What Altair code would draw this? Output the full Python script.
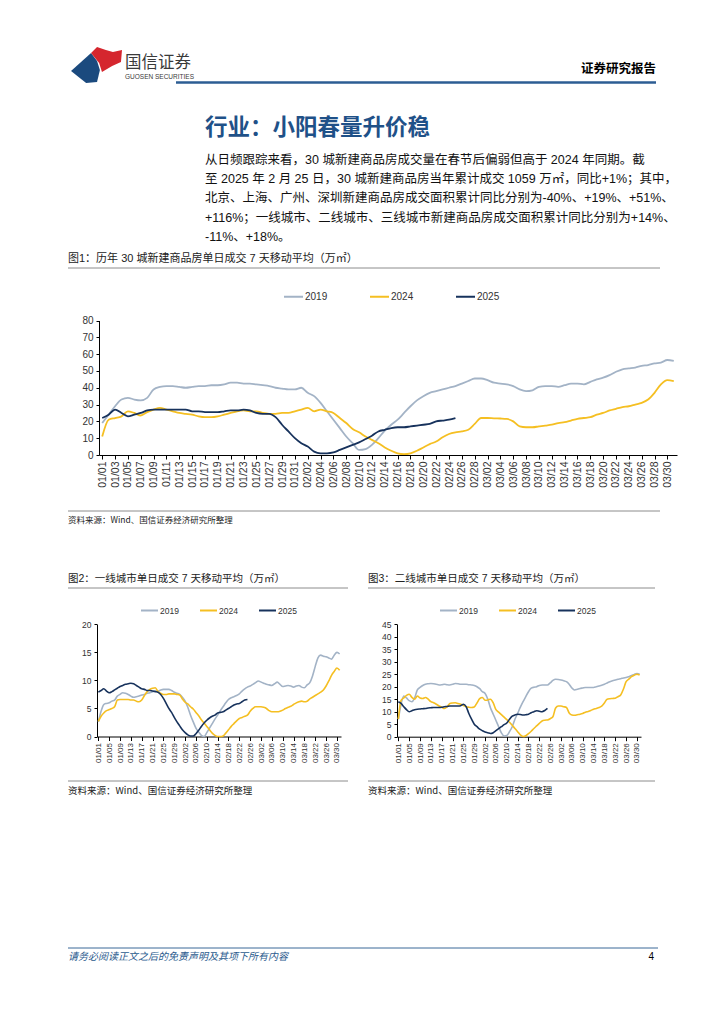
import altair as alt
import pandas as pd

W, H = 700, 1000
M = 8  # page margin

CJK = "Noto Sans CJK SC"
MIX = "Liberation Sans, Noto Sans CJK SC"
LAT = "Liberation Sans Narrow, Liberation Sans, Arial, sans-serif"
REG = "Liberation Sans, Arial, sans-serif"

# ---------------- data ----------------
dates = list(pd.date_range("2025-01-01", "2025-03-31").strftime("%m/%d"))
ticks1 = dates[::2]
ticks2 = dates[::4]
years = ["2019", "2024", "2025"]
colors = ["#a3b3c6", "#f5bf22", "#17325c"]

# Fig 1: 30 cities
c1_2019 = [19, 24, 29, 33, 34, 33, 32.5, 34, 39, 40.5,
           41, 41, 40.5, 40, 40.5, 41, 41, 41.5, 41.5, 42,
           43, 43, 42.5, 42.5, 42, 41.5, 41, 40, 39.5, 39,
           39, 40, 37, 35, 31, 26, 21, 16, 11, 7,
           3, 3.5, 6, 10, 14.5, 18, 21, 25, 29, 32.5,
           35, 37, 38, 39, 40, 41, 42.5, 44, 45.5, 45.5,
           44.5, 43, 42.5, 42, 41, 39, 38, 38.5, 40.5, 41,
           41, 40.5, 41.5, 42.5, 42.5, 42, 43.5, 45, 46, 47.5,
           49.5, 51, 51.5, 52, 53, 53.5, 54.5, 55, 56.5, 56]
c1_2024 = [11, 21, 22, 23, 26, 25, 23.5, 25.5, 27, 28,
           27, 26, 25, 24.5, 24, 23, 22.5, 22.5, 23, 24,
           25, 26, 26.5, 26, 26, 25, 24.5, 24.5, 25, 25,
           26, 27, 28, 26, 27, 26, 25, 22, 19, 15.5,
           13.5, 11, 9, 7, 4.5, 2.5, 1, 0.5, 1, 2.5,
           4.5, 6.5, 8, 10.5, 12.5, 13.5, 14, 15, 18.5, 22,
           22, 21.8, 21.7, 21.5, 20, 17, 16.5, 16.5, 17, 17.5,
           18, 19, 19.5, 20.5, 21.5, 22, 22.5, 24, 25, 26.5,
           27.5, 28.5, 29, 30, 31, 33, 37, 42, 44.5, 44]
c1_2025 = [22, 24, 27, 25, 23, 24, 25, 26.5, 27, 27,
           27, 27, 27, 27, 26, 26, 25.5, 25.5, 25.5, 26,
           26.5, 26.5, 27, 26.5, 25, 24.5, 24.5, 22.5, 18, 14,
           10, 7, 5, 2, 1, 1, 1.5, 3, 4.5, 6,
           7.5, 9.5, 11.5, 14, 15, 16, 16.5, 16.5, 17, 17.5,
           18, 18.5, 20, 20.5, 21, 22]

# Fig 2: tier-1 cities
c2_2019 = [2.6, 4.5, 5.7, 5.9, 6, 6.3, 6.5, 7.2, 7.5, 7.8,
           7.7, 7.5, 7.2, 7, 7.1, 7.2, 7.4, 7.5, 7.7, 7.8,
           8, 8.1, 8.1, 8.3, 8.4, 8.4, 8.4, 8.2, 7.9, 7.7,
           7.5, 7, 6.3, 5.2, 3.8, 2.6, 1.5, 0.8, 0.2, 0,
           0.7, 1.5, 2.3, 3.1, 3.8, 4.6, 5.3, 6, 6.6, 6.9,
           7.1, 7.3, 7.6, 8.1, 8.5, 8.8, 9, 9.3, 9.6, 9.9,
           9.7, 9.5, 9.3, 9.2, 9.1, 9.4, 9.7, 9.3, 8.9, 9,
           9.1, 9, 8.8, 9, 9.1, 8.8, 8.7, 9.2, 9.6, 10.8,
           12.5, 14, 14.5, 14.3, 14.2, 14, 13.8, 14.5, 15, 14.7]
c2_2024 = [2.7, 3.6, 4.2, 4.6, 4.8, 5, 5.3, 6.5, 6.6, 6.6,
           6.6, 6.6, 6.5, 6.5, 6.3, 6.2, 6.5, 7.3, 8, 8.4,
           8.6, 8.7, 8, 7.7, 7.5, 7.5, 7.6, 7.6, 7.6, 7.5,
           7.4, 6.7, 6.1, 5.8, 5.3, 4.9, 4.3, 3.7, 3, 2.4,
           1.8, 1.2, 0.6, 0.2, 0, 0, 0.1, 0.6, 1.2, 1.8,
           2.3, 2.8, 3.2, 3.4, 3.6, 3.8, 4.5, 5, 5.3, 5.3,
           5.3, 5.2, 5, 4.6, 4.4, 4.4, 4.4, 4.5, 4.7, 5,
           5.2, 5.4, 5.7, 6, 6.2, 6.3, 6.2, 6.3, 6.7, 7,
           7.3, 7.6, 7.9, 8.3, 9, 9.9, 10.9, 11.6, 12.2, 11.8]
c2_2025 = [7.9, 8.2, 8.5, 8.1, 7.8, 8, 8.3, 8.6, 8.9, 9.1,
           9.3, 9.4, 9.5, 9.4, 9.1, 8.8, 8.5, 8.4, 8.2, 8.2,
           8.1, 8, 7.9, 7.5, 6.8, 5.9, 5, 4.3, 3.4, 2.6,
           1.9, 1.2, 0.7, 0.3, 0.1, 0.1, 0.5, 1.1, 1.8, 2.4,
           2.9, 3.3, 3.6, 3.8, 4.2, 4.3, 4.4, 4.7, 5, 5.3,
           5.6, 5.8, 5.9, 6.2, 6.5, 6.6]

# Fig 3: tier-2 cities
c3_2019 = [7, 13, 16.3, 15.5, 14.4, 14, 15.5, 18.7, 19.7, 20.5,
           21, 21.2, 21.3, 21.2, 21, 20.7, 20.8, 21, 20.8, 20.7,
           21, 21.3, 21.2, 21, 21, 21, 20.8, 20.7, 20.5, 20,
           19.2, 18, 17.3, 15, 11.5, 9, 6.5, 4, 1.5, 0.3,
           0.5, 2, 4, 7, 9.3, 11.8, 14, 16, 18, 19.4,
           19.8, 20, 20.5, 20.7, 20.7, 20.7, 21.5, 22.5, 23, 22.9,
           22.7, 22.4, 22, 21, 19.5, 18.7, 19, 19.3, 19.5, 19.7,
           19.7, 19.7, 19.7, 20, 20.3, 20.6, 21, 21.5, 22, 22.4,
           22.7, 23, 23.2, 23.5, 23.7, 24, 24.5, 24.9, 25.3, 25]
c3_2024 = [7, 14.5, 15.5, 16.5, 17, 15.7, 15, 16.3, 15.5, 15.3,
           15.7, 15, 14, 13.6, 13, 12.3, 11.8, 11.3, 12, 13.3,
           13.5, 13.6, 13.3, 13, 12.5, 12, 11.8, 11.7, 11.9, 13.5,
           15.2, 15.7, 14.6, 14.7, 15, 13.5, 10.8, 9.8, 8.8, 7.8,
           6.8, 5.8, 4.6, 3.3, 2, 0.7, 0.1, 0.4, 1.2, 2.2,
           3.3, 4.3, 5.3, 6.3, 6.6, 6.7, 7.2, 8, 11.5, 12.3,
           12.3, 12, 11.7, 9.5, 8.7, 8.6, 8.8, 9, 9.3, 9.8,
           10.1, 10.5, 11, 11.3, 11.7, 12.2, 13.5, 15, 15.2, 15.3,
           15.4, 16, 16.7, 19, 22, 23, 24, 24.6, 25, 24.7]
c3_2025 = [14, 13.3, 12, 10.8, 10, 10.4, 10.8, 11, 11.1, 11.2,
           11.3, 11.5, 11.6, 11.7, 11.7, 11.7, 11.8, 12, 12.1, 12.3,
           12.3, 12.3, 12.3, 12.4, 13, 12, 9.3, 7, 5, 4,
           3, 2.4, 1.9, 1.6, 1.3, 1.6, 2.4, 3.2, 4, 4.8,
           5.5, 7, 8.2, 8.7, 9, 8.9, 8.7, 8.8, 9, 9.6,
           10, 10.4, 10.2, 10, 10.5, 11.3]

# ---------------- texts ----------------
brand_cn = "国信证券"
brand_en = "GUOSEN SECURITIES"
report_type = "证券研究报告"
headline = "行业：小阳春量升价稳"
para_lines = [
    "从日频跟踪来看，30 城新建商品房成交量在春节后偏弱但高于 2024 年同期。截",
    "至 2025 年 2 月 25 日，30 城新建商品房当年累计成交 1059 万㎡，同比+1%；其中，",
    "北京、上海、广州、深圳新建商品房成交面积累计同比分别为-40%、+19%、+51%、",
    "+116%；一线城市、二线城市、三线城市新建商品房成交面积累计同比分别为+14%、",
    "-11%、+18%。",
]
fig1_title = "图1：历年 30 城新建商品房单日成交 7 天移动平均（万㎡）"
fig2_title = "图2：一线城市单日成交 7 天移动平均（万㎡）"
fig3_title = "图3：二线城市单日成交 7 天移动平均（万㎡）"
source = "资料来源：Wind、国信证券经济研究所整理"
footer = "请务必阅读正文之后的免责声明及其项下所有内容"
page_no = "4"

ONE = pd.DataFrame({"k": [0]})


def vx(x):
    return x - M


def vy(y):
    return y - M


def text(s, x, y, size, color="#000000", weight="normal", font=CJK,
         align="left", style="normal"):
    return alt.Chart(ONE).mark_text(
        text=s, align=align, baseline="middle", fontSize=size, font=font,
        color=color, fontWeight=weight, fontStyle=style
    ).encode(x=alt.value(vx(x)), y=alt.value(vy(y)))


def hrule(x0, x1, y, color="#8c8c8c", width=1.0):
    return alt.Chart(ONE).mark_rule(color=color, strokeWidth=width).encode(
        x=alt.value(vx(x0)), x2=alt.value(vx(x1)), y=alt.value(vy(y)))


def logo(path, color, cx, cy, half):
    return alt.Chart(ONE).mark_point(
        shape=path, filled=True, color=color, opacity=1, strokeWidth=0,
        size=(2 * half) ** 2
    ).encode(x=alt.value(vx(cx)), y=alt.value(vy(cy)))


def long_df(s19, s24, s25):
    rows = []
    for yr, s in zip(years, [s19, s24, s25]):
        for i, v in enumerate(s):
            rows.append({"date": dates[i], "year": yr, "value": v})
    return pd.DataFrame(rows)


def line_chart(df, x0, x1, ybot, ytop, ymax, ystep, tick_vals, xlab, ylab,
               leg_x, leg_y, sym_len, col_pad, leg_font, sw):
    return alt.Chart(df).mark_line(interpolate="monotone", strokeWidth=sw).encode(
        x=alt.X(
            "date:O", title=None, sort=dates,
            scale=alt.Scale(type="point", domain=dates,
                            range=[vx(x0), vx(x1)], padding=0.5),
            axis=alt.Axis(orient="bottom", offset=vy(ybot) - H, values=tick_vals,
                          labelAngle=-90, labelFont=REG, labelFontSize=xlab,
                          labelColor="#333333", labelPadding=2, labelOverlap=False,
                          tickSize=4, tickColor="#000000", domainColor="#000000",
                          grid=False),
        ),
        y=alt.Y(
            "value:Q", title=None,
            scale=alt.Scale(domain=[0, ymax], range=[vy(ybot), vy(ytop)],
                            nice=False, zero=False),
            axis=alt.Axis(orient="left", offset=-vx(x0),
                          values=list(range(0, ymax + 1, ystep)),
                          labelFont=LAT, labelFontSize=ylab, labelColor="#333333",
                          labelPadding=3, tickSize=3, tickColor="#000000",
                          domainColor="#000000", grid=False),
        ),
        color=alt.Color(
            "year:N",
            scale=alt.Scale(domain=years, range=colors),
            legend=alt.Legend(orient="none", legendX=vx(leg_x), legendY=vy(leg_y),
                              direction="horizontal", title=None,
                              symbolType="stroke", symbolSize=sym_len ** 2,
                              symbolStrokeWidth=2, labelFont=LAT,
                              labelFontSize=leg_font, labelColor="#333333",
                              labelOffset=1, columnPadding=col_pad, padding=0),
        ),
    )


layers = []

# header
blue_path = "M-0.96,0.19 L-0.19,-0.5 L0.04,-0.19 L0.15,0.15 L0.04,0.62 L-0.38,0.65 Z"
red_path = ("M-0.19,-0.5 L0.04,-0.73 L0.38,-0.62 L0.65,-0.54 L1.0,-0.62 "
            "L0.96,-0.15 L0.62,0.0 L0.23,0.23 L0.12,-0.12 Z")
layers.append(logo(blue_path, "#1b4a7e", 96, 66, 26))
layers.append(logo(red_path, "#d5262e", 96, 66, 26))
layers.append(text(brand_cn, 125, 63, 16.5, color="#3a3a3a"))
layers.append(text(brand_en, 125, 77, 6.5, color="#3a3a3a", font="Liberation Sans"))
layers.append(text(report_type, 656, 69, 12.5, weight="bold", align="right"))
layers.append(hrule(176, 656, 82.5, color="#2c5d93", width=2.5))

# headline + paragraph
layers.append(text(headline, 205, 128, 22.5, color="#1f5188", weight="bold"))
for i, line in enumerate(para_lines):
    layers.append(text(line, 205, 160 + i * 19.2, 12.5, color="#111111", font=MIX))

# fig 1
layers.append(text(fig1_title, 68, 259, 11, color="#222222", font=MIX))
layers.append(hrule(68, 660, 268))
layers.append(line_chart(long_df(c1_2019, c1_2024, c1_2025), 99, 677, 455, 320.5,
                         80, 10, ticks1, 10.5, 10, 283, 286, 19, 38, 10, 1.8))
layers.append(hrule(68, 660, 511))
layers.append(text(source, 68, 520, 8.5, color="#222222"))

# fig 2 / fig 3
layers.append(text(fig2_title, 68, 579, 10.5, color="#222222", font=MIX))
layers.append(hrule(68, 348, 588))
layers.append(text(fig3_title, 368, 579, 10.5, color="#222222", font=MIX))
layers.append(hrule(368, 655, 588))
layers.append(line_chart(long_df(c2_2019, c2_2024, c2_2025), 97, 341, 736.5, 624.3,
                         20, 5, ticks2, 8, 8.5, 140, 601, 17, 17, 8.5, 1.6))
layers.append(line_chart(long_df(c3_2019, c3_2024, c3_2025), 397, 641, 736.7, 624.2,
                         45, 5, ticks2, 8, 8.5, 439, 601, 17, 17, 8.5, 1.6))
layers.append(hrule(68, 348, 781))
layers.append(text(source, 68, 791, 9.5, color="#222222"))
layers.append(hrule(368, 655, 781))
layers.append(text(source, 368, 791, 9.5, color="#222222"))

# footer
layers.append(hrule(68, 658, 948, color="#3a6898", width=1))
layers.append(text(footer, 68, 957, 10, color="#2b5b8e", style="italic"))
layers.append(text(page_no, 654, 957, 10, font="Liberation Sans", align="right"))

chart = alt.layer(*layers).resolve_scale(
    x="independent", y="independent", color="independent"
).resolve_axis(x="independent", y="independent").resolve_legend(
    color="independent"
).properties(
    width=W, height=H, padding=0, autosize=alt.AutoSizeParams(type="none")
).configure_view(strokeWidth=0)

chart.save("out.html", embed_options={"renderer": "svg", "actions": False})
